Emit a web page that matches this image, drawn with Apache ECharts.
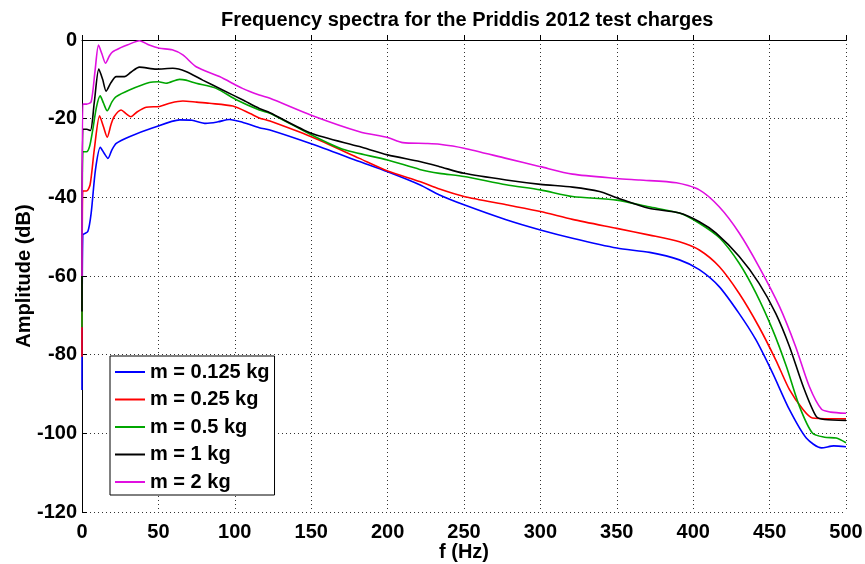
<!DOCTYPE html>
<html>
<head>
<meta charset="utf-8">
<title>Frequency spectra</title>
<script src="https://cdn.jsdelivr.net/npm/echarts@6/dist/echarts.min.js"></script>
<style>
  html, body { margin: 0; padding: 0; background: #fff; }
  #chart { width: 865px; height: 564px; }
</style>
</head>
<body>
<div id="chart"></div>
<script>
// values, [f (Hz), amplitude (dB)]
const m0125 = [
  [0, -89], [0.5, -49.6], [3.8, -48.7], [6, -44], [8.8, -33], [12, -27.3], [14.5, -28.8],
  [17, -30.1], [19.5, -28], [22.4, -26.3], [31, -24.6], [46, -22.4], [64, -20.3], [72, -20.4],
  [81, -21.2], [89, -20.8], [96.5, -20.2], [105, -20.9], [116, -22.3], [123, -22.9], [150, -26.4],
  [181.6, -30.9], [200, -33.5], [221, -36.8], [234, -39.4], [250, -41.9], [277.6, -45.7],
  [300, -48.3], [321, -50.4], [350, -52.9], [371.5, -54], [391, -55.9], [404, -58.4],
  [417, -62.7], [430, -69.5], [441, -76.2], [452, -84.7], [463, -94], [474, -101.2],
  [484, -103.7], [492, -103.2], [500, -103.4]
];
const m025 = [
  [0, -80.5], [0.5, -38.4], [3, -38.4], [5.3, -36.8], [8, -28], [11.5, -19.3], [14, -22],
  [16.5, -24.7], [19, -21.5], [21, -19.5], [25.6, -17.8], [29, -18.8], [32, -19.5], [36, -18.3],
  [42, -17.1], [50.7, -16.9], [58, -16], [66, -15.5], [75, -15.8], [83.4, -16.1], [98.7, -16.8],
  [110, -18.7], [116, -19.8], [123, -20.6], [150, -24.6], [181.6, -30.1], [200, -33.3],
  [221, -36], [234, -37.9], [250, -39.8], [277.6, -41.9], [300, -43.6], [321, -45.6],
  [350, -47.9], [371.5, -49.6], [391, -51.3], [404, -53.4], [417, -57.6], [430, -64.4],
  [443, -72.9], [454, -81.3], [463, -88.9], [472, -94], [478, -96.1], [490, -96.3], [500, -96.3]
];
const m05 = [
  [0, -73], [0.5, -28.4], [3, -28.4], [5, -27], [7, -22.9], [9.5, -17], [11.9, -14.2],
  [14, -16], [16.5, -18], [19.5, -15.8], [22.4, -14.4], [31, -12.7], [44, -10.8], [50, -10.6],
  [55, -11], [63.8, -10], [68, -10.2], [74.7, -11], [87.8, -12.3], [101, -15.2], [116, -17.8],
  [123, -18.6], [150, -24.1], [170.7, -27.8], [200, -30.5], [221, -32.9], [234, -33.9],
  [250, -34.7], [277.6, -36.8], [300, -38.1], [321, -39.8], [350, -40.7], [371, -42.4],
  [391, -44], [404, -46.6], [417.5, -50.4], [430, -56.7], [441, -64.3], [452, -73.7],
  [461, -83], [469.6, -93.2], [478, -99.9], [486, -101], [493.6, -101.2], [500, -102.4]
];
const m1 = [
  [0, -69], [0.5, -22.7], [3, -22.7], [5.5, -23], [8, -16], [11, -7.4], [13.5, -10],
  [15.8, -13], [19, -10.8], [22.4, -9.3], [27.8, -9.3], [32, -8.2], [37.6, -6.9], [48.6, -7.4],
  [59.4, -7.2], [68, -8], [79, -10.2], [92, -12.7], [105, -15.2], [116, -17.4], [123, -18.5],
  [150, -23.7], [181.6, -27.1], [200, -29.2], [221, -30.9], [234, -32.2], [250, -33.9],
  [277.6, -35.6], [300, -36.7], [321, -37.4], [338.7, -38.5], [350, -40.1], [371, -42.8],
  [391, -44], [404, -46.2], [415, -49.1], [430, -55], [443, -61.8], [454, -69.5], [463, -77.9],
  [472, -88.1], [480.5, -95.7], [486, -96.5], [500, -96.7]
];
const m2 = [
  [0, -60], [0.5, -16.3], [3, -16.3], [6, -15.7], [8.5, -8], [10.8, -1.3], [13, -3.5],
  [15.4, -5.9], [18, -4], [20, -3], [25, -2], [30, -1.2], [37.6, -0.2], [44, -1.3],
  [50.7, -2.1], [59, -2.5], [66, -3.8], [74.7, -6.8], [90, -9.3], [105, -12.3], [116, -14],
  [123, -14.8], [150, -19.1], [181.6, -23.3], [200, -24.8], [210, -26.1], [225, -26.3],
  [234, -26.5], [250, -27.5], [277.6, -30.1], [300, -32.2], [321, -34.1], [350, -35.2],
  [365, -35.6], [389, -36.3], [404, -38.1], [417, -42.4], [430, -49], [443, -57.6],
  [456.5, -67.8], [467, -77.9], [476, -88.1], [484, -93.9], [490, -94.6], [500, -94.9]
];

const names = ['m = 0.125 kg', 'm = 0.25 kg', 'm = 0.5 kg', 'm = 1 kg', 'm = 2 kg'];
const colors = ['#0000ff', '#ff0000', '#00a600', '#000000', '#e010e0'];
const seriesData = [m0125, m025, m05, m1, m2];

const font = 'Liberation Sans, Arial, Helvetica, sans-serif';
const boldText = { fontFamily: font, fontWeight: 'bold', fontSize: 20, color: '#000' };

const gridLine = { show: true, lineStyle: { color: '#333', type: [1, 3], width: 1 } };

const chart = echarts.init(document.getElementById('chart'));
chart.setOption({
  animation: false,
  backgroundColor: '#fff',
  textStyle: { fontFamily: font, fontWeight: 'bold', color: '#000' },
  title: {
    text: 'Frequency spectra for the Priddis 2012 test charges',
    left: 216,
    top: 5,
    textStyle: boldText
  },
  legend: {
    orient: 'vertical',
    left: 110,
    top: 356,
    icon: 'rect',
    itemWidth: 30,
    itemHeight: 2,
    itemGap: 7.5,
    padding: [6, 5, 3, 5],
    backgroundColor: '#fff',
    borderColor: '#000',
    borderWidth: 1,
    borderRadius: 0,
    textStyle: Object.assign({ lineHeight: 20 }, boldText),
    data: names
  },
  grid: { left: 82, right: 19, top: 40, bottom: 52, outerBoundsMode: 'none' },
  xAxis: {
    type: 'value',
    min: 0,
    max: 500,
    interval: 50,
    name: 'f (Hz)',
    nameLocation: 'middle',
    nameGap: 30,
    nameMoveOverlap: false,
    nameTextStyle: boldText,
    axisLine: { show: true, lineStyle: { color: '#000', width: 1 } },
    axisTick: { show: true, inside: true, length: 5, lineStyle: { color: '#000' } },
    axisLabel: Object.assign({ margin: 10 }, boldText),
    splitLine: gridLine
  },
  yAxis: {
    type: 'value',
    min: -120,
    max: 0,
    interval: 20,
    name: 'Amplitude (dB)',
    nameLocation: 'middle',
    nameGap: 48,
    nameMoveOverlap: false,
    nameTextStyle: boldText,
    axisLine: { show: true, lineStyle: { color: '#000', width: 1 } },
    axisTick: { show: true, inside: true, length: 5, lineStyle: { color: '#000' } },
    axisLabel: Object.assign({ margin: 5 }, boldText),
    splitLine: gridLine
  },
  series: seriesData.map((d, i) => ({
    name: names[i],
    type: 'line',
    data: d,
    showSymbol: false,
    smooth: 0.25,
    color: colors[i],
    lineStyle: { color: colors[i], width: 1.6 }
  }))
});
</script>
</body>
</html>
